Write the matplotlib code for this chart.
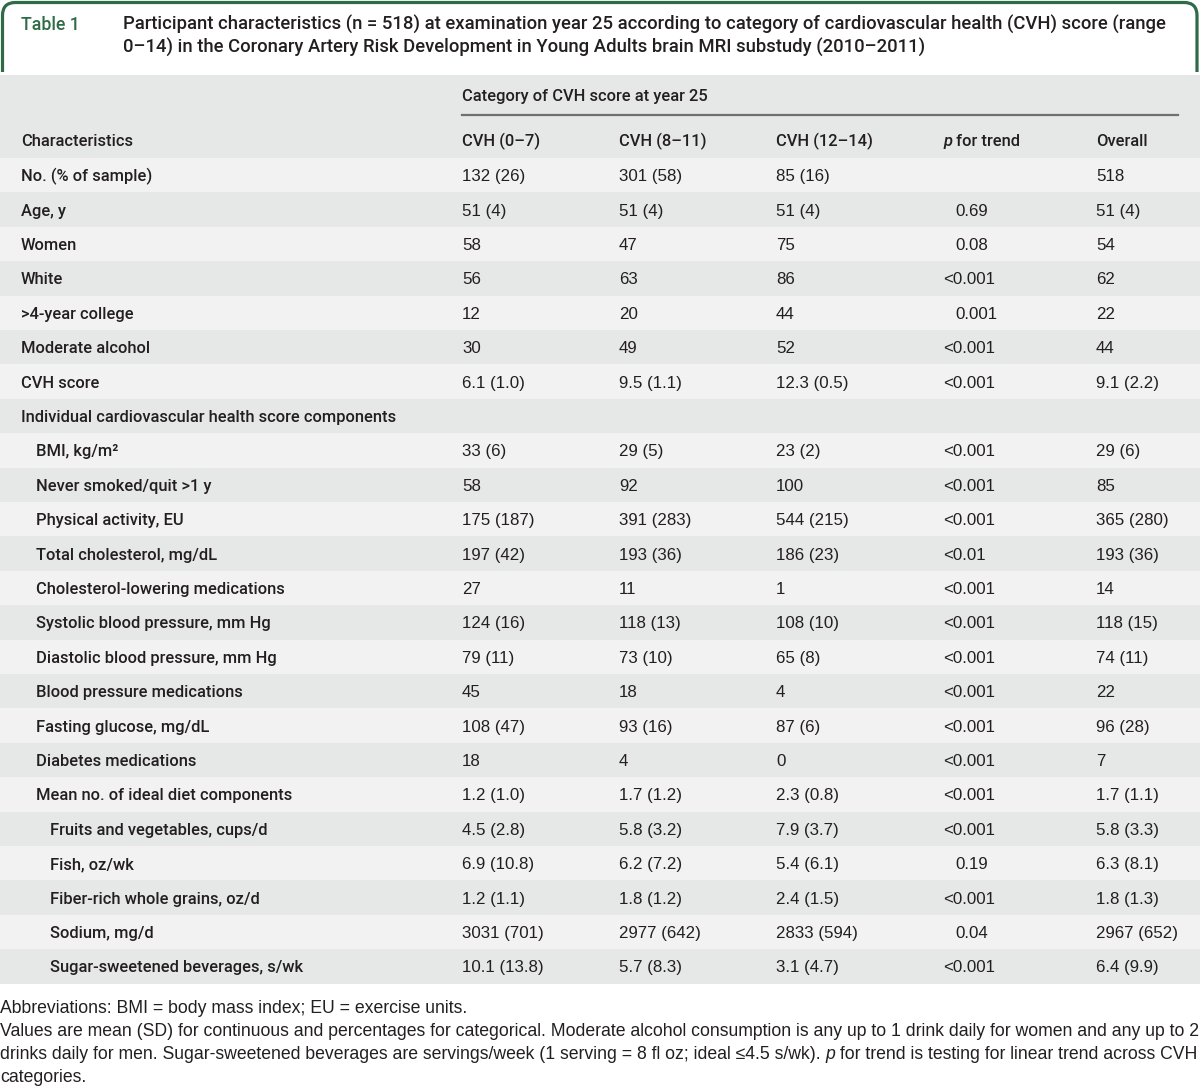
#!/usr/bin/env python3
import matplotlib
matplotlib.use('Agg')
import matplotlib.pyplot as plt
from matplotlib.patches import Rectangle, FancyBboxPatch

# table content
title_lines = [
    'Participant characteristics (n = 518) at examination year 25 according to category of cardiovascular health (CVH) score (range',
    '0\u201314) in the Coronary Artery Risk Development in Young Adults brain MRI substudy (2010\u20132011)',
]
group_header = 'Category of CVH score at year 25'
col_headers = ['CVH (0\u20137)', 'CVH (8\u201311)', 'CVH (12\u201314)', 'p for trend', 'Overall']

labels = [
    'No. (% of sample)', 'Age, y', 'Women', 'White', '>4-year college', 'Moderate alcohol',
    'CVH score', 'Individual cardiovascular health score components',
    'BMI, kg/m\u00b2', 'Never smoked/quit >1 y', 'Physical activity, EU',
    'Total cholesterol, mg/dL', 'Cholesterol-lowering medications',
    'Systolic blood pressure, mm Hg', 'Diastolic blood pressure, mm Hg',
    'Blood pressure medications', 'Fasting glucose, mg/dL', 'Diabetes medications',
    'Mean no. of ideal diet components', 'Fruits and vegetables, cups/d', 'Fish, oz/wk',
    'Fiber-rich whole grains, oz/d', 'Sodium, mg/d', 'Sugar-sweetened beverages, s/wk',
]
indent = [0, 0, 0, 0, 0, 0, 0, 0, 1, 1, 1, 1, 1, 1, 1, 1, 1, 1, 1, 2, 2, 2, 2, 2]

cvh_0_7 = ['132 (26)', '51 (4)', '58', '56', '12', '30', '6.1 (1.0)', '',
           '33 (6)', '58', '175 (187)', '197 (42)', '27', '124 (16)', '79 (11)', '45',
           '108 (47)', '18', '1.2 (1.0)', '4.5 (2.8)', '6.9 (10.8)', '1.2 (1.1)',
           '3031 (701)', '10.1 (13.8)']
cvh_8_11 = ['301 (58)', '51 (4)', '47', '63', '20', '49', '9.5 (1.1)', '',
            '29 (5)', '92', '391 (283)', '193 (36)', '11', '118 (13)', '73 (10)', '18',
            '93 (16)', '4', '1.7 (1.2)', '5.8 (3.2)', '6.2 (7.2)', '1.8 (1.2)',
            '2977 (642)', '5.7 (8.3)']
cvh_12_14 = ['85 (16)', '51 (4)', '75', '86', '44', '52', '12.3 (0.5)', '',
             '23 (2)', '100', '544 (215)', '186 (23)', '1', '108 (10)', '65 (8)', '4',
             '87 (6)', '0', '2.3 (0.8)', '7.9 (3.7)', '5.4 (6.1)', '2.4 (1.5)',
             '2833 (594)', '3.1 (4.7)']
p_trend = ['', '0.69', '0.08', '<0.001', '0.001', '<0.001', '<0.001', '',
           '<0.001', '<0.001', '<0.001', '<0.01', '<0.001', '<0.001', '<0.001', '<0.001',
           '<0.001', '<0.001', '<0.001', '<0.001', '0.19', '<0.001', '0.04', '<0.001']
overall = ['518', '51 (4)', '54', '62', '22', '44', '9.1 (2.2)', '',
           '29 (6)', '85', '365 (280)', '193 (36)', '14', '118 (15)', '74 (11)', '22',
           '96 (28)', '7', '1.7 (1.1)', '5.8 (3.3)', '6.3 (8.1)', '1.8 (1.3)',
           '2967 (652)', '6.4 (9.9)']

footnotes = [
    [('Abbreviations: BMI = body mass index; EU = exercise units.', 'normal')],
    [('Values are mean (SD) for continuous and percentages for categorical. Moderate alcohol '
      'consumption is any up to 1 drink daily for women and any up to 2', 'normal')],
    [('drinks daily for men. Sugar-sweetened beverages are servings/week (1 serving = 8 fl oz; '
      'ideal \u22644.5 s/wk). ', 'normal'), ('p', 'italic'),
     (' for trend is testing for linear trend across CVH', 'normal')],
    [('categories.', 'normal')],
]

# style
GREEN = '#2f6b47'
DARK = '#e6e7e7'
LIGHT = '#f2f2f2'
INK = '#231f20'
LABEL_FONT = 'Roboto'
VALUE_FONT = 'Liberation Sans'

fig = plt.figure(figsize=(12, 10.87), dpi=100)
ax = fig.add_axes([0, 0, 1, 1])
ax.set_xlim(0, 1200)
ax.set_ylim(1087, 0)
ax.axis('off')


def runs(x, y, parts, family, size, weight='normal', color=INK):
    t = None
    for s, style in parts:
        if t is None:
            t = ax.text(x, y, s, family=family, size=size, weight=weight, style=style,
                        color=color, ha='left', va='baseline', zorder=5)
        else:
            t = ax.annotate(s, xy=(1, 0), xycoords=t, family=family, size=size,
                            weight=weight, style=style, color=color, ha='left',
                            va='bottom', zorder=5)
    return t


# title box
box = FancyBboxPatch((2.5, 2.5), 1194.5, 120, boxstyle='round,pad=0,rounding_size=13',
                     fc='white', ec=GREEN, lw=2.3, zorder=1)
ax.add_patch(box)
ax.add_patch(Rectangle((0, 72), 1200, 200, fc='white', ec='none', zorder=2))
ax.text(21, 30, 'Table 1', family=LABEL_FONT, weight='medium', size=12.8, color=GREEN,
        va='baseline', zorder=3)
for i, line in enumerate(title_lines):
    ax.text(123, 30 + i * 23, line, family=LABEL_FONT, weight='medium', size=13.3,
            color=INK, va='baseline', zorder=3)

# header band
row_top = 158.0
row_h = 34.4
ax.add_patch(Rectangle((0, 75), 1200, row_top - 75, fc=DARK, ec='none', zorder=3))
col_x = [462, 619, 776, 943, 1096]
ax.text(col_x[0], 101, group_header, family=LABEL_FONT, weight='medium', size=11.9,
        color=INK, va='baseline', zorder=4)
ax.plot([col_x[0], 1178], [115, 115], color='#707070', lw=1.6, zorder=4)
ax.text(21, 146, 'Characteristics', family=LABEL_FONT, weight='medium', size=11.9,
        color=INK, va='baseline', zorder=4)
for x, h in zip(col_x, col_headers):
    if h.startswith('p '):
        runs(x, 146, [('p', 'italic'), (h[1:], 'normal')], LABEL_FONT, 11.9, 'medium')
    else:
        ax.text(x, 146, h, family=LABEL_FONT, weight='medium', size=11.9, color=INK,
                va='baseline', zorder=4)

# body rows
indent_x = [21, 36, 50]
for i, lab in enumerate(labels):
    top = row_top + i * row_h
    ax.add_patch(Rectangle((0, top), 1200, row_h, fc=DARK if i % 2 else LIGHT,
                           ec='none', zorder=3))
    base = top + row_h / 2 + 6
    ax.text(indent_x[indent[i]], base, lab, family=LABEL_FONT, weight='medium', size=11.9,
            color=INK, va='baseline', zorder=4)
    for x, col in zip([col_x[0], col_x[1], col_x[2], col_x[4]],
                      [cvh_0_7, cvh_8_11, cvh_12_14, overall]):
        ax.text(x, base, col[i], family=VALUE_FONT, size=12.2, color=INK,
                va='baseline', zorder=4)
    p = p_trend[i]
    if p:
        px = col_x[3] if p.startswith('<') else col_x[3] + 12
        ax.text(px, base, p, family=VALUE_FONT, size=12.2, color=INK,
                va='baseline', zorder=4)

# footnotes
for i, parts in enumerate(footnotes):
    runs(0, 1013 + i * 23, parts, VALUE_FONT, 12.7)

plt.savefig('out.png', dpi=100)
